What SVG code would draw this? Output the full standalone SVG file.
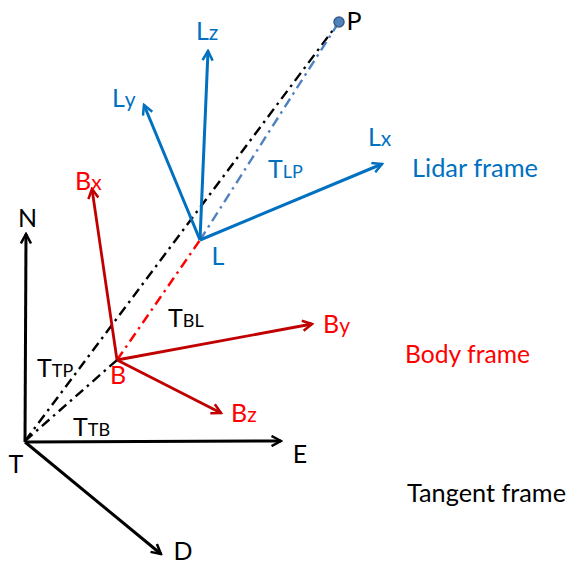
<svg xmlns="http://www.w3.org/2000/svg" width="567" height="565" viewBox="0 0 567 565">
<style>
text{font-family:Lato,"Liberation Sans",sans-serif;font-size:25px}
.k{fill:#000}
.bl{fill:#0070C0}
.rd{fill:#FF0000}
.sub{font-size:18px}
.sm{font-size:21px}
.ak{stroke:#000;stroke-width:3;fill:none}
.ab{stroke:#0070C0;stroke-width:3;fill:none}
.ar{stroke:#C00000;stroke-width:2.8;fill:none}
.dk{stroke:#000;stroke-width:2.4;stroke-dasharray:10 5 2.5 5;fill:none}
.dr{stroke:#FF0000;stroke-width:2.4;stroke-dasharray:10 5 2.5 5;fill:none}
.db{stroke:#4F81BD;stroke-width:2.4;stroke-dasharray:10 5 2.5 5;fill:none}
</style>
<defs>
<marker id="mk" viewBox="0 0 10 10" refX="8.5" refY="5" markerWidth="4.2" markerHeight="4.2" orient="auto" markerUnits="strokeWidth"><path d="M1,1 L8.5,5 L1,9" fill="none" stroke="#000" stroke-width="2"/></marker>
<marker id="mb" viewBox="0 0 10 10" refX="8.5" refY="5" markerWidth="4.2" markerHeight="4.2" orient="auto" markerUnits="strokeWidth"><path d="M1,1 L8.5,5 L1,9" fill="none" stroke="#0070C0" stroke-width="2"/></marker>
<marker id="mr" viewBox="0 0 10 10" refX="8.5" refY="5" markerWidth="4.5" markerHeight="4.5" orient="auto" markerUnits="strokeWidth"><path d="M1,1 L8.5,5 L1,9" fill="none" stroke="#C00000" stroke-width="2"/></marker>
</defs>
<g id="connectors">
<line class="dk" x1="25" y1="441" x2="339" y2="22"/>
<line class="dk" x1="25" y1="441" x2="117" y2="360"/>
<line class="dr" x1="117" y1="360" x2="200" y2="240"/>
<line class="db" x1="200" y1="240" x2="339" y2="22"/>
</g>
<g id="tangent-frame">
<line class="ak" x1="25" y1="442" x2="26" y2="234" marker-end="url(#mk)"/>
<line class="ak" x1="25" y1="442" x2="281" y2="441" marker-end="url(#mk)"/>
<line class="ak" x1="25" y1="442" x2="161" y2="554" marker-end="url(#mk)"/>
<text class="k" x="27.5" y="227" text-anchor="middle">N</text>
<text class="k" x="16" y="473" text-anchor="middle">T</text>
<text class="k" x="300" y="463" text-anchor="middle">E</text>
<text class="k" x="183" y="560" text-anchor="middle">D</text>
<text class="k" x="407" y="502" textLength="159" lengthAdjust="spacingAndGlyphs">Tangent frame</text>
<text class="k" x="37" y="377">T<tspan class="sub">TP</tspan></text>
<text class="k" x="73" y="436">T<tspan class="sub">TB</tspan></text>
</g>
<g id="body-frame">
<line class="ar" x1="117" y1="360" x2="92" y2="189" marker-end="url(#mr)"/>
<line class="ar" x1="117" y1="360" x2="312" y2="324" marker-end="url(#mr)"/>
<line class="ar" x1="117" y1="360" x2="221" y2="413" marker-end="url(#mr)"/>
<text class="rd" x="118" y="384" text-anchor="middle">B</text>
<text class="rd" x="75" y="190">B<tspan class="sm">x</tspan></text>
<text class="rd" x="323" y="333">B<tspan class="sm">y</tspan></text>
<text class="rd" x="231" y="422">B<tspan class="sm">z</tspan></text>
<text class="rd" x="405" y="363" textLength="125" lengthAdjust="spacingAndGlyphs">Body frame</text>
<text class="k" x="168" y="327">T<tspan class="sub">BL</tspan></text>
</g>
<g id="lidar-frame">
<line class="ab" x1="200" y1="240" x2="208" y2="51" marker-end="url(#mb)"/>
<line class="ab" x1="200" y1="240" x2="144" y2="105" marker-end="url(#mb)"/>
<line class="ab" x1="200" y1="240" x2="382" y2="164" marker-end="url(#mb)"/>
<text class="bl" x="218" y="265" text-anchor="middle">L</text>
<text class="bl" x="196" y="40">L<tspan class="sm">z</tspan></text>
<text class="bl" x="112" y="107">L<tspan class="sm">y</tspan></text>
<text class="bl" x="368" y="146">L<tspan class="sm">x</tspan></text>
<text class="bl" x="412" y="177" textLength="126" lengthAdjust="spacingAndGlyphs">Lidar frame</text>
<text class="bl" x="268" y="178">T<tspan class="sub">LP</tspan></text>
</g>
<g id="point-p">
<circle cx="339" cy="22" r="5" fill="#4F81BD" stroke="#385D8A" stroke-width="1.5"/>
<text class="k" x="354" y="30" text-anchor="middle">P</text>
</g>
</svg>
